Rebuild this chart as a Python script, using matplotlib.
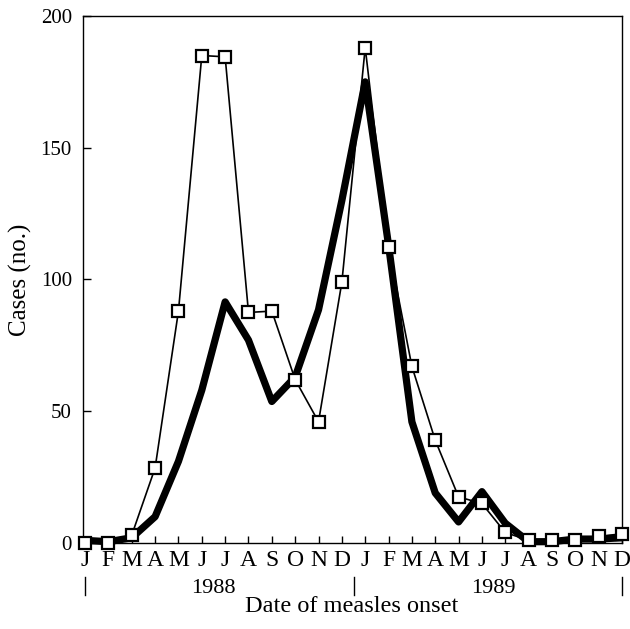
import numpy as np
import matplotlib
matplotlib.use('Agg')
import matplotlib.pyplot as plt

months = ['J', 'F', 'M', 'A', 'M', 'J', 'J', 'A', 'S', 'O', 'N', 'D'] * 2
years = ['1988', '1989']

# open squares, thin line
cases_a = [0, 0, 3, 28.5, 88, 185, 184.5, 87.5, 88, 62, 46, 99,
           188, 112.5, 67, 39, 17.5, 15, 4, 1, 1, 1, 2.5, 3.5]
# heavy line
cases_b = [1, 0.5, 2, 10, 31, 58, 91.5, 77, 53.7, 63, 88.5, 130,
           175, 113, 46, 19, 8, 19.5, 7.5, 0.5, 0.5, 1.5, 1.5, 2]

plt.rcParams['font.family'] = ['Liberation Serif', 'DejaVu Serif']

fig = plt.figure(figsize=(6.3, 6.29), dpi=100)
ax = fig.add_axes([0.1317, 0.1367, 0.9873 - 0.1317, 0.9746 - 0.1367])

x = np.arange(len(months))
ax.plot(x, cases_b, color='black', lw=5.2, solid_joinstyle='round',
        solid_capstyle='round', zorder=2, clip_on=False)
ax.plot(x, cases_a, color='black', lw=1.2, marker='s', markersize=8.5,
        markerfacecolor='white', markeredgecolor='black', markeredgewidth=1.6,
        zorder=3, clip_on=False)

ax.set_xlim(-0.09, 23.0)
ax.set_ylim(0, 200)
ax.set_yticks([0, 50, 100, 150, 200])
ax.set_xticks(x)
ax.set_xticklabels(months, fontsize=17)
ax.tick_params(axis='y', direction='in', length=6, width=1, pad=8, labelsize=15)
ax.tick_params(axis='x', direction='in', length=5, width=1, pad=5)
for s in ax.spines.values():
    s.set_linewidth(1.0)

# year labels and separators
tr = ax.get_xaxis_transform()
ax.text(5.5, -0.087, years[0], transform=tr, ha='center', va='center', fontsize=16)
ax.text(17.5, -0.087, years[1], transform=tr, ha='center', va='center', fontsize=16)
for xs in [0, 11.5, 23]:
    ax.plot([xs, xs], [-0.065, -0.099], transform=tr, color='black', lw=1,
            clip_on=False)

fig.text(20 / 630, 1 - 280 / 629, 'Cases (no.)', rotation=90, ha='center',
         va='center', fontsize=18)
fig.text(0.559, 1 - 607 / 629, 'Date of measles onset', ha='center', va='center',
         fontsize=17.5)

fig.savefig('out.png', dpi=100)
